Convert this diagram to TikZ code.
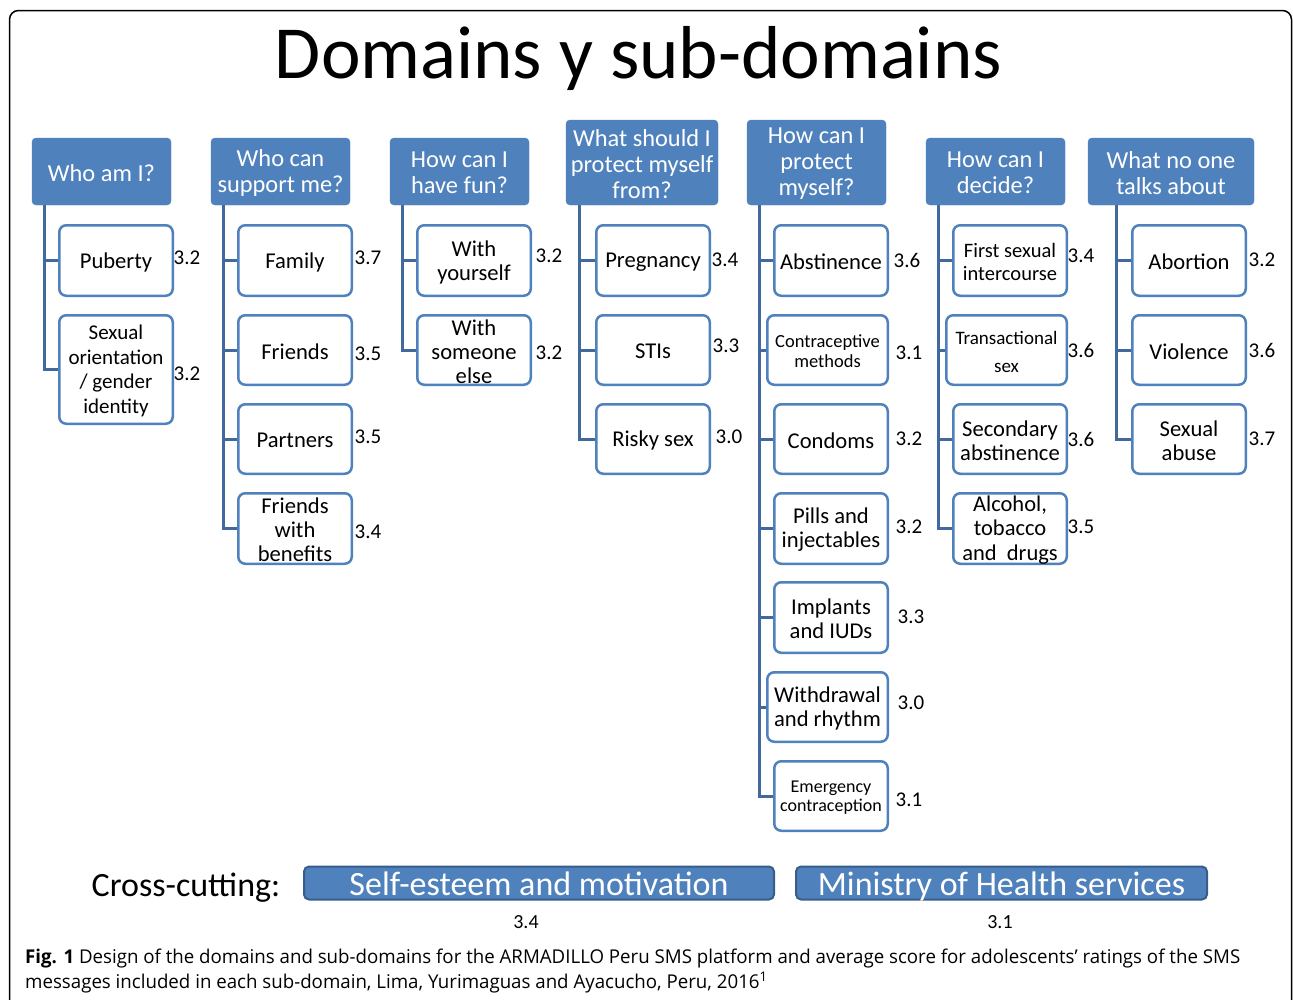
\documentclass[tikz,border=0pt]{standalone}
\usepackage{fontspec}
\usepackage{graphicx}
\setmainfont{Carlito}
\newfontfamily\capfont{Open Sans}
\usetikzlibrary{calc}
\definecolor{hdblue}{HTML}{4F81BD}
\definecolor{lnblue}{HTML}{41699E}
\definecolor{barline}{HTML}{385D8A}
\definecolor{captxt}{HTML}{333333}
\newsavebox\capA
\newsavebox\capB
% header box from its corners: name, x1, y1, x2, y2, text
\newcommand\headnode[6]{\node[head, minimum width={#4-#2}, minimum height={#5-#3},
  label={[headtext]center:{#6}}] (#1) at ({(#2+#4)/2},{(#3+#5)/2}) {};}
% sub-domain box from its corners: [text options], name, x1, y1, x2, y2, text
\newcommand\subnode[7][]{\node[subbox, minimum width={#5-#3-2.5}, minimum height={#6-#4-2.5},
  label={[subtext,#1]center:{#7}}] (#2) at ({(#3+#5)/2},{(#4+#6)/2}) {};}
\begin{document}
% figure caption lines, condensed to the measure
\sbox\capA{\capfont\fontsize{19}{22}\selectfont{\bfseries Fig. 1} Design of the domains and sub-domains for the ARMADILLO Peru SMS platform and average score for adolescents’ ratings of the SMS}%
\sbox\capB{\capfont\fontsize{19}{22}\selectfont messages included in each sub-domain, Lima, Yurimaguas and Ayacucho, Peru, 2016\textsuperscript{1}}%
\pgfmathsetmacro\capsx{1215pt/\wd\capA}%
\begin{tikzpicture}[x=1pt,y=-1pt,
  head/.style={fill=hdblue, draw=hdblue, rounded corners=4pt, inner sep=0pt},
  headtext/.style={text=white, align=center, font=\fontsize{24.4}{26}\selectfont, inner sep=0pt, yshift=-1.5pt},
  subbox/.style={draw=hdblue, fill=white, line width=2.5pt, rounded corners=7pt, inner sep=0pt},
  subtext/.style={align=center, font=\fontsize{22.6}{24}\selectfont, inner sep=0pt, yshift=-1.5pt},
  conn/.style={draw=lnblue, line width=3pt},
  score/.style={font=\fontsize{21}{24}\selectfont, inner sep=0pt},
  bar/.style={fill=hdblue, draw=barline, line width=2pt, rounded corners=5pt, inner sep=0pt},
  bartext/.style={text=white, font=\fontsize{34}{36}\selectfont, inner sep=0pt, anchor=base}
]
\useasboundingbox (0,0) rectangle (1293,999);

% outer frame
\begin{scope}
  \clip (0,0) rectangle (1293,999);
  \draw[line width=1.5pt, rounded corners=9pt] (9.5,10.5) rectangle (1291.5,1040);
\end{scope}

% title
\node[font=\fontsize{75}{80}\selectfont, anchor=base, inner sep=0pt] (title) at (638.5,78) {Domains y sub-domains};

% domain headers
\headnode{h1}{32}{138}{171}{205}{Who am I?}
\headnode{h2}{211}{138}{350}{205}{Who can\\support me?}
\headnode{h3}{390}{138}{529}{205}{How can I\\have fun?}
\headnode{h4}{566}{120}{718}{205}{What should I\\protect myself\\from?}
\headnode{h5}{747}{120}{886}{205}{How can I\\protect\\myself?}
\headnode{h6}{926}{138}{1065}{205}{How can I\\decide?}
\headnode{h7}{1088}{138}{1254}{205}{What no one\\talks about}

% sub-domains
\subnode{c1a}{58}{224}{174}{297}{Puberty}
\subnode[font=\fontsize{21}{24.5}\selectfont]{c1b}{58}{314}{174}{425}{Sexual\\orientation\\/ gender\\identity}

\subnode{c2a}{237}{224}{353}{297}{Family}
\subnode{c2b}{237}{314}{353}{386}{Friends}
\subnode{c2c}{237}{403}{353}{475}{Partners}
\subnode{c2d}{237}{492}{353}{565}{Friends\\with\\benefits}

\subnode{c3a}{416}{224}{532}{297}{With\\yourself}
\subnode{c3b}{416}{314}{532}{386}{With\\someone\\else}

\subnode{c4a}{595}{224}{711}{297}{Pregnancy}
\subnode{c4b}{595}{314}{711}{386}{STIs}
\subnode{c4c}{595}{403}{711}{475}{Risky sex}

\subnode{c5a}{773}{224}{889}{297}{Abstinence}
\subnode[font=\fontsize{18.5}{20}\selectfont]{c5b}{766}{314}{889}{386}{Contraceptive\\methods}
\subnode{c5c}{773}{403}{889}{475}{Condoms}
\subnode{c5d}{773}{492}{889}{565}{Pills and\\injectables}
\subnode{c5e}{773}{581}{889}{654}{Implants\\and IUDs}
\subnode{c5f}{766}{671}{889}{743}{Withdrawal\\and rhythm}
\subnode[font=\fontsize{18}{19}\selectfont]{c5g}{773}{760}{889}{832}{Emergency\\contraception}

\subnode[font=\fontsize{20.5}{23}\selectfont]{c6a}{952}{224}{1068}{297}{First sexual\\intercourse}
\subnode[font=\fontsize{19}{28}\selectfont]{c6b}{945}{314}{1068}{386}{Transactional\\sex}
\subnode{c6c}{952}{403}{1068}{475}{Secondary\\abstinence}
\subnode[font=\fontsize{22.5}{24.5}\selectfont]{c6d}{952}{492}{1068}{565}{Alcohol,\\tobacco\\and\ \ drugs}

\subnode{c7a}{1131}{224}{1247}{297}{Abortion}
\subnode{c7b}{1131}{314}{1247}{386}{Violence}
\subnode{c7c}{1131}{403}{1247}{475}{Sexual\\abuse}

% tree connectors
\coordinate (t1) at ([xshift=13pt]h1.south west);
\coordinate (t2) at ([xshift=13pt]h2.south west);
\coordinate (t3) at ([xshift=13pt]h3.south west);
\coordinate (t4) at ([xshift=14pt]h4.south west);
\coordinate (t5) at ([xshift=13pt]h5.south west);
\coordinate (t6) at ([xshift=13pt]h6.south west);
\coordinate (t7) at ([xshift=29pt]h7.south west);

\draw[conn] (t1) |- (c1b.west);
\draw[conn] (t1 |- c1a.west) -- (c1a.west);

\draw[conn] (t2) |- (c2d.west);
\foreach \c in {c2a,c2b,c2c} \draw[conn] (t2 |- \c.west) -- (\c.west);

\draw[conn] (t3) |- (c3b.west);
\draw[conn] (t3 |- c3a.west) -- (c3a.west);

\draw[conn] (t4) |- (c4c.west);
\foreach \c in {c4a,c4b} \draw[conn] (t4 |- \c.west) -- (\c.west);

\draw[conn] (t5) |- (c5g.west);
\foreach \c in {c5a,c5b,c5c,c5d,c5e,c5f} \draw[conn] (t5 |- \c.west) -- (\c.west);

\draw[conn] (t6) |- (c6d.west);
\foreach \c in {c6a,c6b,c6c} \draw[conn] (t6 |- \c.west) -- (\c.west);

\draw[conn] (t7) |- (c7c.west);
\foreach \c in {c7a,c7b} \draw[conn] (t7 |- \c.west) -- (\c.west);

% average scores
\node[score] (s1a) at (187,258) {3.2};
\node[score] (s1b) at (187,374) {3.2};
\node[score] (s2a) at (368,258) {3.7};
\node[score] (s2b) at (368,354) {3.5};
\node[score] (s2c) at (368,437) {3.5};
\node[score] (s2d) at (368,532) {3.4};
\node[score] (s3a) at (549,256) {3.2};
\node[score] (s3b) at (549,353) {3.2};
\node[score] (s4a) at (725,260) {3.4};
\node[score] (s4b) at (726,346) {3.3};
\node[score] (s4c) at (729,437) {3.0};
\node[score] (s5a) at (907,260) {3.6};
\node[score] (s5b) at (909,353) {3.1};
\node[score] (s5c) at (909,439) {3.2};
\node[score] (s5d) at (909,527) {3.2};
\node[score] (s5e) at (911,617) {3.3};
\node[score] (s5f) at (911,703) {3.0};
\node[score] (s5g) at (909,800) {3.1};
\node[score] (s6a) at (1081,256) {3.4};
\node[score] (s6b) at (1081,350) {3.6};
\node[score] (s6c) at (1081,439) {3.6};
\node[score] (s6d) at (1081,527) {3.5};
\node[score] (s7a) at (1262,260) {3.2};
\node[score] (s7b) at (1262,350) {3.6};
\node[score] (s7c) at (1262,439) {3.7};

% cross-cutting themes
\node[font=\fontsize{34}{36}\selectfont, anchor=base, inner sep=0pt] (cc) at (186,896) {Cross-cutting:};
\node[bar, minimum width=470, minimum height=33] (b1) at (539,883) {};
\node[bar, minimum width=411, minimum height=33] (b2) at (1001.5,883) {};
\node[bartext] (b1t) at ([yshift=-12pt]b1.center) {Self-esteem and motivation};
\node[bartext] (b2t) at ([yshift=-12pt]b2.center) {Ministry of Health services};
\node[score, font=\fontsize{20}{22}\selectfont] (sb1) at (526,922) {3.4};
\node[score, font=\fontsize{20}{22}\selectfont] (sb2) at (1000,922) {3.1};

% figure caption
\node[anchor=base west, inner sep=0pt, text=captxt] (cap1) at (25,963) {\scalebox{\capsx}[1]{\usebox\capA}};
\node[anchor=base west, inner sep=0pt, text=captxt] (cap2) at (25,988) {\scalebox{\capsx}[1]{\usebox\capB}};
\end{tikzpicture}
\end{document}
